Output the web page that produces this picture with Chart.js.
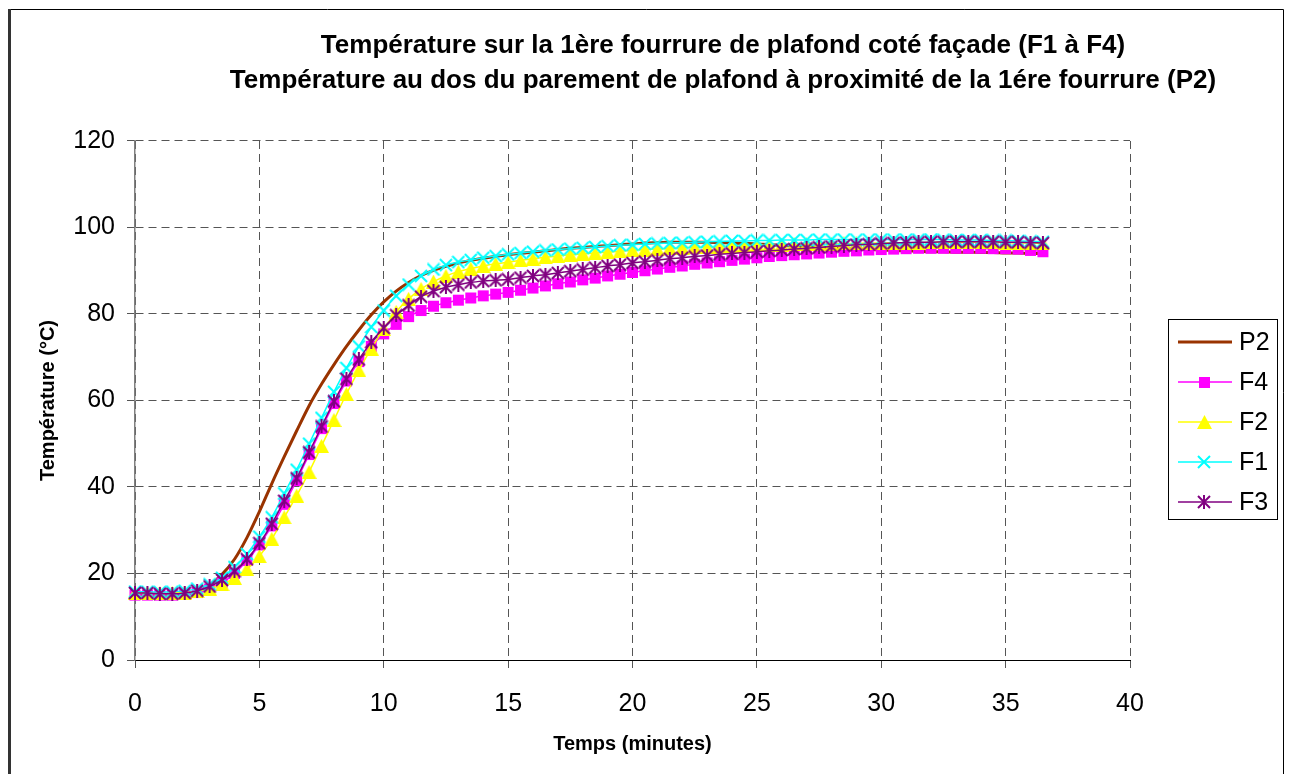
<!DOCTYPE html>
<html><head><meta charset="utf-8">
<script src="https://cdn.jsdelivr.net/npm/chart.js@4/dist/chart.umd.min.js"></script>
<style>html,body{margin:0;padding:0;background:#fff}#wrap{width:1290px;height:774px;position:relative}</style>
</head><body><div id="wrap"><canvas id="c" width="1290" height="774"></canvas></div>
<script>
const times = [0,0.5,1,1.5,2,2.5,3,3.5,4,4.5,
 5,5.5,6,6.5,7,7.5,8,8.5,9,9.5,
 10,10.5,11,11.5,12,12.5,13,13.5,14,14.5,
 15,15.5,16,16.5,17,17.5,18,18.5,19,19.5,
 20,20.5,21,21.5,22,22.5,23,23.5,24,24.5,
 25,25.5,26,26.5,27,27.5,28,28.5,29,29.5,
 30,30.5,31,31.5,32,32.5,33,33.5,34,34.5,
 35,35.5,36,36.5];
const P2 = [15.0,15.0,14.9,15.0,15.2,15.8,17.3,19.8,23.3,28.3,
 34.3,40.8,47.0,53.0,58.8,63.8,68.3,72.5,76.3,79.8,
 82.8,85.3,87.3,88.9,90.1,91.0,91.8,92.4,92.9,93.3,
 93.7,94.0,94.3,94.6,94.9,95.2,95.4,95.6,95.8,96.0,
 96.2,96.4,96.5,96.6,96.6,96.6,96.6,96.5,96.4,96.3,
 96.2,96.0,95.9,95.7,95.6,95.4,95.3,95.1,95.0,94.9,
 94.8,94.7,94.6,94.5,94.4,94.4,94.3,94.3,94.2,94.2,
 94.1,94.1,94.0,94.0];
const F4 = [15.0,15.0,15.0,15.0,15.2,15.6,16.4,17.8,20.0,23.0,
 26.6,31.0,36.0,41.5,47.5,53.5,59.3,64.5,69.0,72.5,
 75.4,77.6,79.4,80.8,81.8,82.6,83.2,83.7,84.2,84.6,
 85.0,85.5,86.0,86.5,87.0,87.4,87.9,88.3,88.8,89.2,
 89.6,90.0,90.4,90.8,91.1,91.5,91.8,92.1,92.4,92.7,
 93.0,93.3,93.5,93.7,93.9,94.1,94.3,94.5,94.6,94.8,
 94.9,95.0,95.1,95.2,95.2,95.2,95.2,95.2,95.2,95.1,
 95.1,95.0,94.7,94.4];
const F2 = [15.5,15.5,15.4,15.5,15.6,15.9,16.5,17.5,19.0,21.0,
 24.0,28.0,33.0,38.0,43.5,49.5,55.5,61.5,67.0,72.0,
 76.5,80.5,83.5,85.8,87.5,88.8,89.8,90.5,91.1,91.6,
 92.0,92.4,92.8,93.1,93.4,93.7,93.9,94.1,94.3,94.5,
 94.7,94.9,95.0,95.2,95.3,95.4,95.5,95.6,95.7,95.8,
 95.9,96.0,96.0,96.1,96.1,96.2,96.2,96.3,96.3,96.4,
 96.4,96.5,96.5,96.5,96.6,96.6,96.6,96.6,96.6,96.6,
 96.5,96.5,96.4,96.3];
const F1 = [15.8,15.8,15.7,15.8,16.0,16.5,17.5,19.0,21.5,24.5,
 28.5,33.0,38.5,44.0,50.0,56.0,62.0,67.5,72.5,77.0,
 80.8,84.2,86.8,88.8,90.3,91.3,92.0,92.5,93.0,93.4,
 93.8,94.1,94.4,94.7,94.9,95.1,95.3,95.5,95.7,95.9,
 96.0,96.2,96.3,96.4,96.5,96.6,96.7,96.8,96.9,96.9,
 97.0,97.0,97.1,97.1,97.1,97.2,97.2,97.2,97.2,97.2,
 97.2,97.2,97.2,97.2,97.2,97.2,97.1,97.1,97.1,97.0,
 97.0,96.9,96.8,96.7];
const F3 = [15.5,15.5,15.3,15.3,15.5,16.0,17.0,18.5,20.5,23.3,
 27.0,31.5,36.8,42.0,48.0,54.0,59.8,65.0,69.5,73.5,
 76.8,79.7,82.0,84.0,85.3,86.2,86.8,87.3,87.6,87.8,
 88.0,88.4,88.8,89.1,89.5,89.9,90.3,90.7,91.1,91.4,
 91.8,92.1,92.4,92.8,93.0,93.3,93.5,93.8,94.0,94.2,
 94.4,94.6,94.8,95.0,95.2,95.4,95.6,95.8,96.0,96.1,
 96.3,96.4,96.5,96.6,96.6,96.7,96.7,96.7,96.7,96.7,
 96.6,96.6,96.5,96.4];
const legendOrder = ['P2','F4','F2','F1','F3'];
const titleLines = ['Température sur la 1ère fourrure de plafond coté façade (F1 à F4)',
 'Température au dos du parement de plafond à proximité de la 1ére fourrure (P2)'];
const xTitle = 'Temps (minutes)';
const yTitle = 'Température (°C)';
const xRange = [0, 40, 5];
const yRange = [0, 120, 20];

Chart.defaults.font.family = '"Liberation Sans", Arial, sans-serif';
Chart.defaults.color = '#000';

function mk(w, h, draw) { const c = document.createElement('canvas'); c.width = w; c.height = h; draw(c.getContext('2d')); return c; }
const mSquare = mk(13, 13, g => { g.fillStyle = '#FF00FF'; g.fillRect(1, 1, 11, 11); });
const mTri = mk(15, 14, g => { g.fillStyle = '#FFFF00'; g.beginPath(); g.moveTo(7.5, 0); g.lineTo(15, 14); g.lineTo(0, 14); g.closePath(); g.fill(); });
const mX = mk(14, 14, g => { g.strokeStyle = '#00FFFF'; g.lineWidth = 2; g.beginPath(); g.moveTo(1, 1); g.lineTo(13, 13); g.moveTo(13, 1); g.lineTo(1, 13); g.stroke(); });
const mStar = mk(14, 14, g => { g.strokeStyle = '#800080'; g.lineWidth = 2; g.beginPath(); g.moveTo(1, 1); g.lineTo(13, 13); g.moveTo(13, 1); g.lineTo(1, 13); g.moveTo(7, 0); g.lineTo(7, 14); g.stroke(); });

const pts = arr => times.map((t, i) => ({x: t, y: arr[i]}));
const mkSeries = (label, arr, color, marker, width) => ({
  label, data: pts(arr), borderColor: color, backgroundColor: color, borderWidth: width,
  pointStyle: marker || false, pointRadius: marker ? 6 : 0, pointHoverRadius: marker ? 6 : 0,
  clip: false, fill: false, cubicInterpolationMode: 'monotone'
});
// drawing order: last dataset drawn first (at the bottom)
const datasets = [
  mkSeries('F3', F3, '#800080', mStar, 1.5),
  mkSeries('F1', F1, '#00FFFF', mX, 1.5),
  mkSeries('F2', F2, '#FFFF00', mTri, 1.5),
  mkSeries('F4', F4, '#FF00FF', mSquare, 1.5),
  mkSeries('P2', P2, '#993300', null, 3)
];

const bgPlugin = { id: 'bg', beforeDraw(c) { const g = c.ctx; g.save(); g.fillStyle = '#fff'; g.fillRect(0, 0, c.width, c.height); g.restore(); } };
const titleShift = { id: 'titleShift', afterLayout(c) { const tb = c.titleBlock; if (tb) { tb.left = 723 - 560; tb.right = 723 + 560; } } };
const framePlugin = { id: 'frame', afterDraw(c) {
  const g = c.ctx; g.save();
  g.strokeStyle = '#000'; g.lineWidth = 1;
  g.beginPath(); g.moveTo(9, 9.5); g.lineTo(1283.5, 9.5); g.lineTo(1283.5, 780); g.stroke();
  g.strokeStyle = '#333'; g.lineWidth = 3;
  g.beginPath(); g.moveTo(9.5, 9); g.lineTo(9.5, 780); g.stroke();
  g.restore();
} };
const legendPlugin = { id: 'boxLegend', afterDraw(c) {
  const g = c.ctx; g.save();
  g.strokeStyle = '#000'; g.lineWidth = 1; g.strokeRect(1168.5, 319.5, 109, 200);
  legendOrder.forEach((n, i) => {
    const ds = c.data.datasets.find(d => d.label === n);
    const y = 342 + i * 40;
    g.strokeStyle = ds.borderColor; g.lineWidth = ds.borderWidth;
    g.beginPath(); g.moveTo(1178, y); g.lineTo(1232, y); g.stroke();
    if (ds.pointStyle) { const m = ds.pointStyle; g.drawImage(m, Math.round(1204 - m.width / 2), Math.round(y - m.height / 2)); }
    g.fillStyle = '#000'; g.font = '25px "Liberation Sans", Arial, sans-serif'; g.textBaseline = 'middle'; g.textAlign = 'left';
    g.fillText(n, 1239, y + 1);
  });
  g.restore();
} };

new Chart(document.getElementById('c'), {
  type: 'line',
  data: { datasets },
  options: {
    responsive: false, animation: false, devicePixelRatio: 1,
    layout: { padding: { left: 20, right: 160, top: 0, bottom: 14 } },
    plugins: {
      legend: { display: false }, tooltip: { enabled: false },
      title: { display: true, text: titleLines, color: '#000', font: { size: 26, weight: 'bold', lineHeight: 1.346 }, padding: { top: 28, bottom: 43 } }
    },
    scales: {
      x: {
        type: 'linear', min: xRange[0], max: xRange[1],
        ticks: { stepSize: xRange[2], color: '#000', font: { size: 25 }, padding: 21, maxRotation: 0, autoSkip: false },
        grid: { color: '#555', lineWidth: 1, tickLength: 8, tickColor: '#555' },
        border: { display: true, color: '#000', width: 1, dash: [8, 5] },
        title: { display: true, text: xTitle, color: '#000', font: { size: 20, weight: 'bold' }, padding: { top: 4, bottom: 4 } },
        afterFit(s) { s.height = 100; }
      },
      y: {
        min: yRange[0], max: yRange[1],
        ticks: { stepSize: yRange[2], color: '#000', font: { size: 25 }, padding: 12 },
        grid: { color: '#555', lineWidth: 1, tickLength: 8, tickColor: '#555' },
        border: { display: true, color: '#808080', width: 1.5, dash: [8, 5] },
        title: { display: true, text: yTitle, color: '#000', font: { size: 20, weight: 'bold' }, padding: { top: 16, bottom: 0 } },
        afterFit(s) { s.width = 115; }
      }
    }
  },
  plugins: [bgPlugin, titleShift, framePlugin, legendPlugin]
});
</script></body></html>
